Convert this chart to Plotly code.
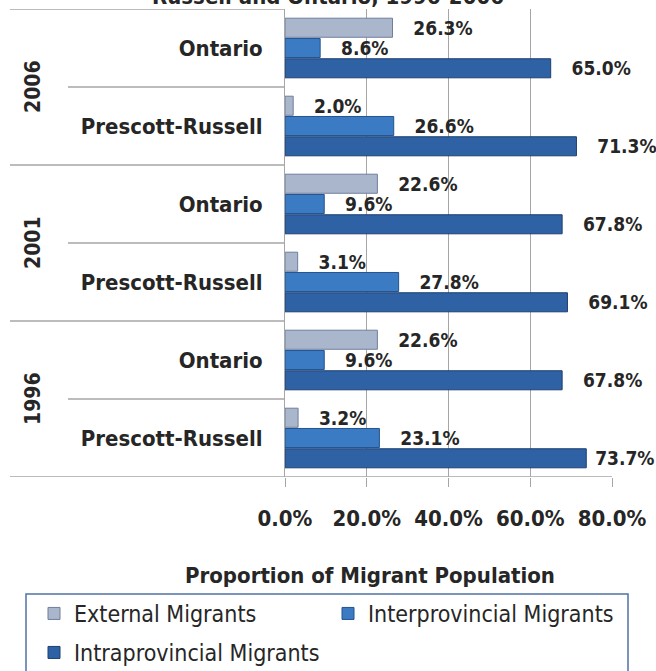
import plotly.graph_objects as go

# ---- data (top to bottom as in the reference) ----
years = ["2006", "2006", "2001", "2001", "1996", "1996"]
regions = ["Ontario", "Prescott-Russell", "Ontario", "Prescott-Russell", "Ontario", "Prescott-Russell"]
external = [26.3, 2.0, 22.6, 3.1, 22.6, 3.2]
interprovincial = [8.6, 26.6, 9.6, 27.8, 9.6, 23.1]
intraprovincial = [65.0, 71.3, 67.8, 69.1, 67.8, 73.7]
x_ticks = [0, 20, 40, 60, 80]
x_ticktext = ["0.0%", "20.0%", "40.0%", "60.0%", "80.0%"]
year_groups = ["2006", "2001", "1996"]

keys = [f"{y} {r}" for y, r in zip(years, regions)]

FONT = "DejaVu Sans Condensed, DejaVu Sans, sans-serif"
TXT = "#262626"
NB = "\u00a0"
GRID = "#a6a6a6"


def label(v):
    pad = 1 if v > 72 else 3
    return f"{NB*pad}{v:.1f}%"


series = [
    ("External Migrants", external, "#aab6cc", "#6f7f9c", "legend"),
    ("Interprovincial Migrants", interprovincial, "#3b7bc4", "#23538e", "legend"),
    ("Intraprovincial Migrants", intraprovincial, "#2f62a4", "#1c3f70", "legend2"),
]

fig = go.Figure()
for name, vals, fill, line, leg in series:
    fig.add_trace(go.Bar(
        name=name, y=keys, x=vals, orientation="h",
        marker=dict(color=fill, line=dict(color=line, width=1)),
        text=[label(v) for v in vals],
        textposition="outside", cliponaxis=False, constraintext="none",
        textfont=dict(family=FONT, size=19, color=TXT, weight="bold"),
        legend=leg,
    ))

fig.update_layout(
    width=656, height=671,
    margin=dict(l=285, r=44, t=9, b=194, autoexpand=False),
    paper_bgcolor="white", plot_bgcolor="white",
    barmode="group", bargap=0.22, bargroupgap=0.06,
    font=dict(family=FONT, color=TXT),
    showlegend=True,
    legend=dict(orientation="h", x=(34 - 285) / 327, xanchor="left", y=(477 - 592) / 468, yanchor="top",
                font=dict(family=FONT, size=23, color=TXT),
                entrywidth=249, bgcolor="rgba(0,0,0,0)", borderwidth=0),
    legend2=dict(orientation="h", x=(34 - 285) / 327, xanchor="left", y=(477 - 631) / 468, yanchor="top",
                 font=dict(family=FONT, size=23, color=TXT),
                 bgcolor="rgba(0,0,0,0)", borderwidth=0),
)

fig.update_xaxes(
    range=[0, 80], tickvals=x_ticks, ticktext=x_ticktext,
    showgrid=True, gridcolor=GRID, gridwidth=1,
    zeroline=False, showline=False,
    ticks="outside", ticklen=9, tickcolor=GRID,
    ticklabelstandoff=13,
    tickfont=dict(family=FONT, size=22, color=TXT, weight="bold"),
)
fig.update_yaxes(
    type="category", categoryorder="array", categoryarray=keys,
    range=[5.5, -0.5],
    tickvals=keys, ticktext=regions,
    showline=True, linecolor=GRID, linewidth=1,
    ticks="", ticklabelstandoff=17, showgrid=False,
    tickfont=dict(family=FONT, size=22, color=TXT, weight="bold"),
)

# label-area divider lines
xl_outer = (10 - 285) / 327
xl_inner = (68 - 285) / 327
shapes = []
for yv in [-0.5, 1.5, 3.5]:
    shapes.append(dict(type="line", xref="paper", yref="y", x0=xl_outer, x1=0, y0=yv, y1=yv,
                       line=dict(color=GRID, width=1.5)))
shapes.append(dict(type="line", xref="paper", yref="y", x0=xl_outer, x1=1, y0=5.5, y1=5.5,
                   line=dict(color=GRID, width=1.5)))
for yv in [0.5, 2.5, 4.5]:
    shapes.append(dict(type="line", xref="paper", yref="y", x0=xl_inner, x1=0, y0=yv, y1=yv,
                       line=dict(color=GRID, width=1.5)))
# legend frame
shapes.append(dict(type="rect", xref="paper", yref="paper",
                   x0=(26 - 285) / 327, x1=(628 - 285) / 327,
                   y0=(477 - 594) / 468, y1=-0.45,
                   line=dict(color="#4f72a6", width=1.5), fillcolor="rgba(0,0,0,0)", layer="below"))
fig.update_layout(shapes=shapes)

annotations = []
for i, yr in enumerate(year_groups):
    annotations.append(dict(text=yr, xref="paper", yref="y", x=(33 - 285) / 327, y=2 * i + 0.5,
                            textangle=-90, showarrow=False, xanchor="center", yanchor="middle",
                            font=dict(family=FONT, size=21, color=TXT, weight="bold")))
annotations.append(dict(text="Proportion of Migrant Population", xref="paper", yref="paper",
                        x=(370 - 285) / 327, y=(477 - 575) / 468, showarrow=False,
                        xanchor="center", yanchor="middle",
                        font=dict(family=FONT, size=22, color=TXT, weight="bold")))
annotations.append(dict(text="Russell and Ontario, 1996-2006", xref="paper", yref="paper",
                        x=(328 - 285) / 327, y=(477 + 4) / 468, showarrow=False,
                        xanchor="center", yanchor="middle",
                        font=dict(family=FONT, size=22, color=TXT, weight="bold")))
fig.update_layout(annotations=annotations)

fig.write_html("out.html", config={"displayModeBar": False},
               post_script="document.body.style.margin='0';document.body.style.overflow='hidden';")
